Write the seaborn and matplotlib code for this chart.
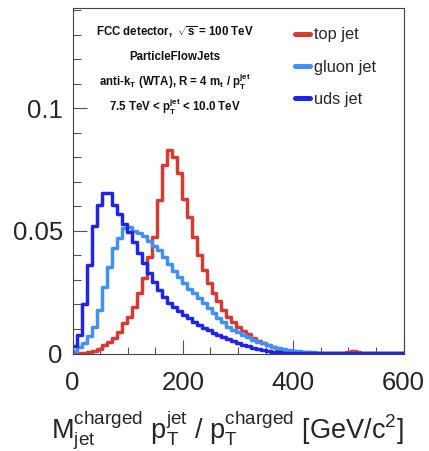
import numpy as np
import pandas as pd
import matplotlib
matplotlib.use("Agg")
import matplotlib.pyplot as plt
from matplotlib.lines import Line2D
import seaborn as sns

# ---------------- data ----------------
bin_width = 9.0
top_jet = [0.0001, 0.0002, 0.0004, 0.0007, 0.0012, 0.0020, 0.0033, 0.0048, 0.0065, 0.0087,
           0.0123, 0.0150, 0.0190, 0.0246, 0.0307, 0.0395, 0.0477, 0.0627, 0.0770, 0.0830,
           0.0800, 0.0735, 0.0630, 0.0556, 0.0477, 0.0402, 0.0340, 0.0287, 0.0246, 0.0215,
           0.0178, 0.0150, 0.0128, 0.0110, 0.0093, 0.0078, 0.0064, 0.0052, 0.0042, 0.0034,
           0.0026, 0.0020, 0.0015, 0.0012, 0.0009, 0.0007, 0.0006, 0.0005, 0.0004, 0.0004,
           0.0003, 0.0003, 0.0003, 0.0002, 0.0004, 0.0008, 0.0010, 0.0006, 0.0003, 0.0002,
           0.0002, 0.0001, 0.0001, 0.0001, 0.0001, 0.0001, 0.0001]
gluon_jet = [0.0012, 0.0025, 0.0042, 0.0070, 0.0110, 0.0178, 0.0273, 0.0354, 0.0430, 0.0470,
             0.0510, 0.0515, 0.0500, 0.0490, 0.0478, 0.0460, 0.0440, 0.0420, 0.0392, 0.0365,
             0.0338, 0.0310, 0.0288, 0.0265, 0.0245, 0.0225, 0.0205, 0.0185, 0.0165, 0.0145,
             0.0128, 0.0110, 0.0097, 0.0086, 0.0076, 0.0066, 0.0056, 0.0048, 0.0041, 0.0034,
             0.0028, 0.0022, 0.0018, 0.0014, 0.0011, 0.0009, 0.0007, 0.0006, 0.0005, 0.0004,
             0.0004, 0.0003, 0.0003, 0.0002, 0.0002, 0.0002, 0.0001, 0.0001, 0.0001, 0.0001,
             0.0001, 0.0001, 0.0001, 0.0001, 0.0001, 0.0001, 0.0001]
uds_jet = [0.0030, 0.0075, 0.0200, 0.0360, 0.0520, 0.0606, 0.0656, 0.0656, 0.0606, 0.0570,
           0.0530, 0.0497, 0.0456, 0.0410, 0.0368, 0.0327, 0.0293, 0.0259, 0.0232, 0.0205,
           0.0188, 0.0172, 0.0157, 0.0143, 0.0130, 0.0117, 0.0103, 0.0094, 0.0085, 0.0076,
           0.0068, 0.0060, 0.0052, 0.0044, 0.0036, 0.0030, 0.0023, 0.0017, 0.0013, 0.0010,
           0.0007, 0.0005, 0.0004, 0.0003, 0.0003, 0.0002, 0.0002, 0.0001, 0.0001, 0.0001,
           0.0001, 0.0001, 0.0001, 0.0001, 0.0001, 0.0001, 0.0001, 0.0001, 0.0001, 0.0001,
           0.0001, 0.0001, 0.0001, 0.0001, 0.0001, 0.0001, 0.0001]
series_labels = ["top jet", "gluon jet", "uds jet"]
series_colors = ["#d63a34", "#4190f2", "#1f24e6"]
xticks_major = [0, 200, 400, 600]
yticks_major = [0, 0.05, 0.1]
ytick_labels = ["0", "0.05", "0.1"]
info_lines = [
    r"FCC detector,  $\mathbf{\sqrt{s}}$ = 100 TeV",
    r"ParticleFlowJets",
    r"anti-$\mathbf{k_{T}}$ (WTA), R = 4 $\mathbf{m_{t}}$ / $\mathbf{p_{T}^{jet}}$",
    r"7.5 TeV < $\mathbf{p_{T}^{jet}}$ < 10.0 TeV",
]
xlabel = r"$\mathregular{M_{jet}^{charged}\ p_{T}^{jet}\ /\ p_{T}^{charged}\ [GeV/c^{2}]}$"

# ---------------- style ----------------
sns.set_style("white")
plt.rcParams["font.family"] = ["Liberation Sans", "DejaVu Sans"]
plt.rcParams["mathtext.fontset"] = "custom"
plt.rcParams["mathtext.rm"] = "Liberation Sans"
plt.rcParams["mathtext.it"] = "Liberation Sans:italic"
plt.rcParams["mathtext.bf"] = "Liberation Sans:bold"
plt.rcParams["mathtext.sf"] = "Liberation Sans"

W, H = 429, 451
fig = plt.figure(figsize=(W / 100, H / 100), dpi=100)
ax_l, ax_r, ax_t, ax_b = 72.5, 403.5, 7.7, 353.5
ax = fig.add_axes([ax_l / W, 1 - ax_b / H, (ax_r - ax_l) / W, (ax_b - ax_t) / H])

n = len(top_jet)
edges = [i * bin_width for i in range(n + 1)]
centers = [e + bin_width / 2 for e in edges[:-1]]
frames = []
for lab, vals in zip(series_labels, [top_jet, gluon_jet, uds_jet]):
    frames.append(pd.DataFrame({"x": centers, "w": vals, "sample": lab}))
df = pd.concat(frames, ignore_index=True)

for lab, col in zip(series_labels, series_colors):
    sub = df[df["sample"] == lab].reset_index(drop=True)
    sns.histplot(data=sub, x="x", weights="w", bins=edges, element="step",
                 fill=False, color=col, linewidth=2.5, ax=ax, legend=False)

ax.set_xlim(0, 600)
ax.set_ylim(0, 0.141)
ax.set_ylabel("")
ax.set_xlabel(xlabel, fontsize=19.5, ha="right")
ax.xaxis.set_label_coords(1.0, -0.158)

ax.set_xticks(xticks_major)
ax.set_xticks(np.arange(0, 601, 50), minor=True)
ax.set_yticks(yticks_major)
ax.set_yticklabels(ytick_labels)
ax.set_yticks(np.arange(0, 0.141, 0.01), minor=True)
ax.tick_params(axis="both", which="both", direction="in", color="#555555", width=0.8,
               bottom=True, left=True, top=False, right=False)
ax.tick_params(axis="x", which="major", length=10, pad=12.5, labelsize=18.5)
ax.tick_params(axis="x", which="minor", length=5)
ax.tick_params(axis="y", which="major", length=10, pad=7, labelsize=18.5)
ax.tick_params(axis="y", which="minor", length=6)
for s in ax.spines.values():
    s.set_color("#444444")
    s.set_linewidth(0.8)

# info block
ys = [32, 57, 82, 107]
for t, y in zip(info_lines, ys):
    fig.text(174.5 / W, 1 - y / H, t, ha="center", va="center", fontsize=8.3,
             fontweight="bold", color="#111111")

handles = [Line2D([0], [0], color=c, lw=3.6) for c in series_colors]
ax.legend(handles, series_labels, loc="upper left", bbox_to_anchor=(295 / W, 1 - 27.5 / H),
          bbox_transform=fig.transFigure, frameon=False, fontsize=11.8,
          handlelength=0.9, handletextpad=0.25, labelspacing=1.05,
          borderpad=0, borderaxespad=0)

fig.savefig("out.png", dpi=100)
